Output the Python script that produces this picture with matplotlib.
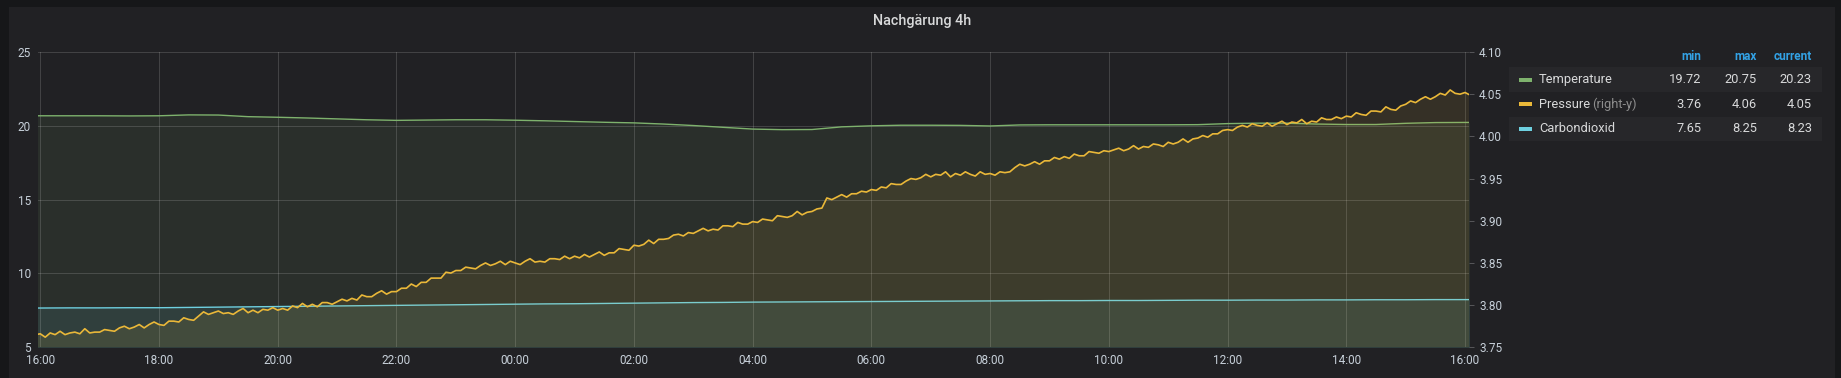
import matplotlib
matplotlib.use('Agg')
import matplotlib.pyplot as plt
import matplotlib.dates as mdates
from matplotlib.patches import Rectangle
from matplotlib.ticker import FormatStrFormatter
import pandas as pd

plt.rcParams['font.family'] = ['Roboto', 'DejaVu Sans']

# pressure (right axis), one value every 5 minutes from 15:55 to 16:05 next day
pressure = [
    3.765,
    3.766, 3.762, 3.767, 3.765, 3.769, 3.765, 3.767, 3.768, 3.766, 3.772, 3.767, 3.768,  # 16h
    3.768, 3.771, 3.770, 3.769, 3.773, 3.775, 3.772, 3.774, 3.777, 3.773, 3.777, 3.780,  # 17h
    3.777, 3.776, 3.781, 3.781, 3.780, 3.785, 3.783, 3.782, 3.787, 3.792, 3.789, 3.791,  # 18h
    3.793, 3.790, 3.791, 3.789, 3.793, 3.796, 3.791, 3.794, 3.791, 3.795, 3.794, 3.797,  # 19h
    3.794, 3.796, 3.794, 3.799, 3.797, 3.802, 3.798, 3.801, 3.798, 3.803, 3.803, 3.801,  # 20h
    3.804, 3.807, 3.805, 3.808, 3.806, 3.812, 3.810, 3.810, 3.814, 3.817, 3.813, 3.816,  # 21h
    3.816, 3.820, 3.820, 3.825, 3.822, 3.827, 3.827, 3.832, 3.832, 3.832, 3.839, 3.838,  # 22h
    3.841, 3.841, 3.845, 3.844, 3.843, 3.847, 3.850, 3.847, 3.849, 3.852, 3.848, 3.852,  # 23h
    3.850, 3.848, 3.852, 3.855, 3.851, 3.852, 3.851, 3.855, 3.855, 3.854, 3.858, 3.855,  # 00h
    3.858, 3.856, 3.860, 3.857, 3.860, 3.863, 3.859, 3.862, 3.862, 3.867, 3.866, 3.865,  # 01h
    3.871, 3.870, 3.872, 3.877, 3.873, 3.878, 3.878, 3.879, 3.883, 3.884, 3.882, 3.886,  # 02h
    3.885, 3.888, 3.891, 3.888, 3.890, 3.889, 3.894, 3.894, 3.893, 3.898, 3.896, 3.896,  # 03h
    3.899, 3.898, 3.902, 3.901, 3.900, 3.906, 3.905, 3.904, 3.906, 3.911, 3.907, 3.910,  # 04h
    3.911, 3.914, 3.915, 3.927, 3.925, 3.928, 3.931, 3.928, 3.932, 3.932, 3.935, 3.934,  # 05h
    3.937, 3.936, 3.940, 3.939, 3.944, 3.943, 3.943, 3.947, 3.950, 3.949, 3.951, 3.955,  # 06h
    3.952, 3.955, 3.954, 3.958, 3.952, 3.956, 3.954, 3.958, 3.955, 3.953, 3.958, 3.955,  # 07h
    3.956, 3.954, 3.958, 3.957, 3.958, 3.963, 3.967, 3.965, 3.967, 3.970, 3.967, 3.971,  # 08h
    3.971, 3.975, 3.973, 3.976, 3.974, 3.979, 3.977, 3.977, 3.982, 3.981, 3.980, 3.983,  # 09h
    3.982, 3.984, 3.986, 3.983, 3.985, 3.989, 3.985, 3.988, 3.987, 3.991, 3.990, 3.988,  # 10h
    3.993, 3.991, 3.993, 3.997, 3.993, 3.997, 3.998, 4.001, 3.999, 4.003, 4.003, 4.007,  # 11h
    4.008, 4.007, 4.011, 4.013, 4.011, 4.015, 4.013, 4.012, 4.016, 4.012, 4.015, 4.018,  # 12h
    4.014, 4.017, 4.016, 4.020, 4.015, 4.018, 4.017, 4.022, 4.020, 4.020, 4.023, 4.021,  # 13h
    4.024, 4.023, 4.028, 4.026, 4.025, 4.030, 4.030, 4.029, 4.035, 4.032, 4.031, 4.036,  # 14h
    4.038, 4.042, 4.040, 4.044, 4.047, 4.044, 4.047, 4.051, 4.049, 4.055, 4.051, 4.050,  # 15h
    4.052, 4.049,
]

# temperature and CO2 (left axis), one value every 30 minutes from 15:30 to 16:30
temperature = [
    20.68, 20.68, 20.68, 20.68, 20.67, 20.68, 20.74, 20.73, 20.62, 20.58,
    20.53, 20.47, 20.41, 20.37, 20.39, 20.41, 20.41, 20.38, 20.34, 20.29,
    20.24, 20.20, 20.12, 20.02, 19.90, 19.78, 19.74, 19.75, 19.93, 20.00,
    20.04, 20.04, 20.03, 19.99, 20.06, 20.07, 20.07, 20.07, 20.07, 20.07,
    20.08, 20.15, 20.18, 20.18, 20.12, 20.09, 20.09, 20.17, 20.22, 20.23,
    20.23,
]
co2 = [
    7.66, 7.66, 7.67, 7.67, 7.68, 7.68, 7.70, 7.72, 7.74, 7.76,
    7.78, 7.80, 7.82, 7.84, 7.86, 7.88, 7.90, 7.92, 7.94, 7.95,
    7.97, 7.99, 8.01, 8.03, 8.04, 8.06, 8.07, 8.08, 8.09, 8.10,
    8.11, 8.12, 8.13, 8.14, 8.15, 8.16, 8.16, 8.17, 8.17, 8.18,
    8.19, 8.19, 8.20, 8.20, 8.21, 8.21, 8.22, 8.22, 8.23, 8.23,
    8.23,
]

t_p = pd.date_range('2019-03-09 15:55', periods=len(pressure), freq='5min')
t_s = pd.date_range('2019-03-09 15:30', periods=len(temperature), freq='30min')

left_ticks = [5, 10, 15, 20, 25]
right_ticks = [3.75, 3.80, 3.85, 3.90, 3.95, 4.00, 4.05, 4.10]

series = ['Temperature', 'Pressure', 'Carbondioxid']
colors = ['#7eb26d', '#eab839', '#6ed0e0']
mins = ['19.72', '3.76', '7.65']
maxs = ['20.75', '4.06', '8.25']
currents = ['20.23', '4.05', '8.23']

W, H = 1841, 378


def fx(x):
    return x / W


def fy(y):
    return 1 - y / H


fig = plt.figure(figsize=(W / 100, H / 100), dpi=100, facecolor='#161719')
fig.add_artist(Rectangle((fx(9), 0), fx(1835) - fx(9), fy(7), transform=fig.transFigure,
                         facecolor='#212124', edgecolor='none', zorder=0))

ax = fig.add_axes([fx(37.7), fy(347.3), fx(1469) - fx(37.7), fy(52) - fy(347.3)])
ax.set_facecolor('none')
ax2 = ax.twinx()
ax2.set_facecolor('none')

ax.plot(t_s, temperature, color=colors[0], lw=1.0)
ax.fill_between(t_s, temperature, 0, color=colors[0], alpha=0.1, lw=0)
ax.plot(t_s, co2, color=colors[2], lw=1.0)
ax.fill_between(t_s, co2, 0, color=colors[2], alpha=0.1, lw=0)

ax2.plot(t_p, pressure, color=colors[1], lw=1.2)
ax2.fill_between(t_p, pressure, 0, color=colors[1], alpha=0.1, lw=0)

ax.set_xlim(pd.Timestamp('2019-03-09 15:57:24'), pd.Timestamp('2019-03-10 16:04:02'))
ax.set_ylim(5, 25)
ax.set_yticks(left_ticks)
ax2.set_ylim(3.75, 4.10)
ax2.set_yticks(right_ticks)
ax2.yaxis.set_major_formatter(FormatStrFormatter('%.2f'))

ax.xaxis.set_major_locator(mdates.HourLocator(byhour=range(0, 24, 2)))
ax.xaxis.set_major_formatter(mdates.DateFormatter('%H:%M'))

for a in (ax, ax2):
    for s in a.spines.values():
        s.set_visible(False)

ax.grid(True, color='white', alpha=0.15, lw=0.75)
ax.tick_params(axis='y', length=0, pad=4.8, labelsize=8.5, labelcolor='#c7d0d9')
ax.tick_params(axis='x', length=0, pad=5, labelsize=8.5, labelcolor='#c7d0d9')
ax2.tick_params(axis='y', length=3.6, width=0.72, color='#555558', pad=3.6,
                labelsize=8.5, labelcolor='#c7d0d9')

fig.text(fx(921.7), fy(21), 'Nachgärung 4h', ha='center', va='center',
         fontsize=10.4, fontweight='medium', color='#d8d9da')

# legend table
hdr_y = 56.7
for label, xr in zip(['min', 'max', 'current'], [1701.7, 1756.7, 1812]):
    fig.text(fx(xr), fy(hdr_y), label, ha='right', va='center', fontsize=8.5,
             fontweight='bold', color='#33a2e5')

row_y = [79.5, 104, 129]
for i, name in enumerate(series):
    y = row_y[i]
    if i % 2 == 0:
        fig.add_artist(Rectangle((fx(1509), fy(y + 12.3)), fx(1822) - fx(1509), 24.5 / H,
                                 transform=fig.transFigure, facecolor='#27272a',
                                 edgecolor='none', zorder=1))
    fig.add_artist(Rectangle((fx(1519), fy(y + 2)), fx(1532) - fx(1519), 4 / H,
                             transform=fig.transFigure, facecolor=colors[i],
                             edgecolor='none', zorder=2))
    fig.text(fx(1539), fy(y), name, ha='left', va='center', fontsize=9.3, color='#d8d9da')
    if name == 'Pressure':
        fig.text(fx(1592), fy(y), '(right-y)', ha='left', va='center', fontsize=9.3,
                 color='#8e8e8e')
    for val, xr in zip([mins[i], maxs[i], currents[i]], [1701.7, 1756.7, 1812]):
        fig.text(fx(xr), fy(y), val, ha='right', va='center', fontsize=9.3, color='#d8d9da')

fig.savefig('out.png', dpi=100, facecolor=fig.get_facecolor())
